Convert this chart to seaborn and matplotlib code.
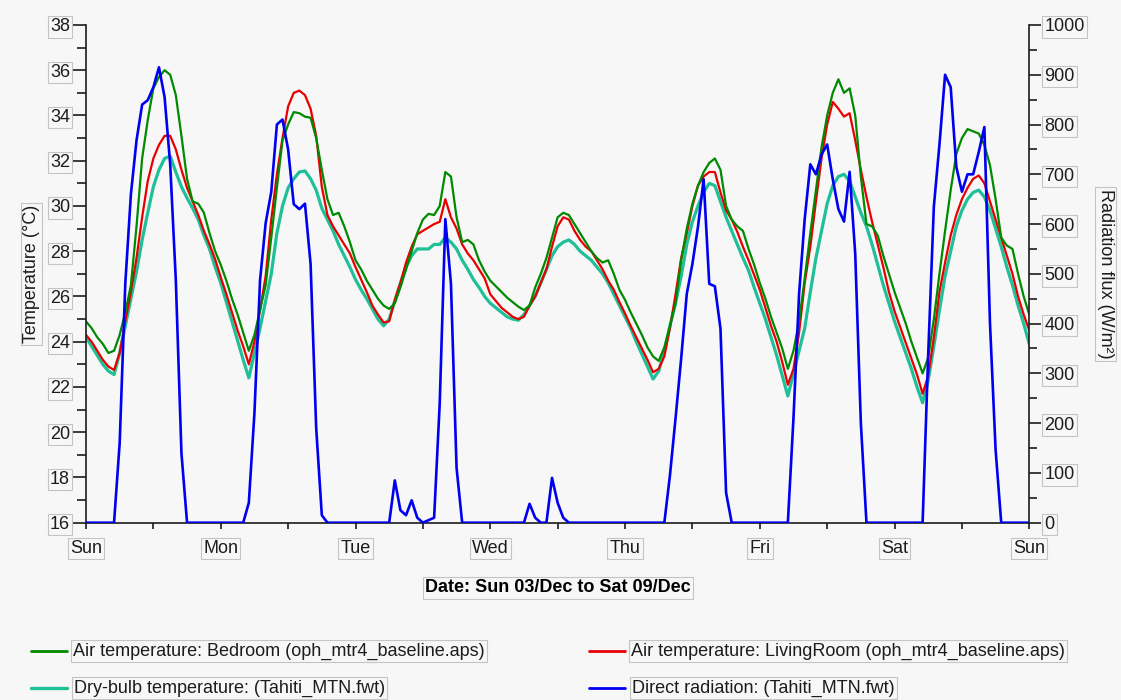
import matplotlib
matplotlib.use("Agg")
import matplotlib.pyplot as plt
from matplotlib.lines import Line2D
from matplotlib.ticker import MultipleLocator
import seaborn as sns
import numpy as np
import pandas as pd

# hourly values, Sun 03/Dec 00:00 .. Sun 10/Dec 00:00 (one row per day)
bedroom = [
    24.9, 24.6, 24.2, 23.9, 23.5, 23.6, 24.3, 25.3, 26.5, 29.1, 32.1, 33.8, 35.2, 35.7, 36.0, 35.8, 34.9, 33.1, 31.2, 30.2, 30.1, 29.7, 28.8, 28.0,
    27.4, 26.7, 25.9, 25.2, 24.4, 23.6, 24.3, 25.4, 26.5, 28.6, 30.8, 32.9, 33.6, 34.15, 34.1, 33.95, 33.9, 33.0, 31.6, 30.3, 29.6, 29.7, 29.1, 28.4,
    27.6, 27.2, 26.7, 26.3, 25.9, 25.6, 25.45, 25.7, 26.4, 27.2, 28.0, 28.8, 29.4, 29.65, 29.6, 30.0, 31.5, 31.3, 29.5, 28.4, 28.5, 28.3, 27.6, 27.1,
    26.7, 26.45, 26.2, 25.95, 25.75, 25.55, 25.4, 25.6, 26.4, 27.0, 27.7, 28.6, 29.5, 29.7, 29.6, 29.2, 28.8, 28.4, 28.0, 27.7, 27.5, 27.6, 27.0, 26.3,
    25.85, 25.3, 24.8, 24.3, 23.75, 23.35, 23.15, 23.75, 24.7, 25.7, 27.6, 29.0, 30.1, 30.9, 31.5, 31.9, 32.1, 31.6, 30.0, 29.4, 29.1, 28.9, 28.1, 27.4,
    26.6, 25.9, 25.1, 24.4, 23.7, 22.8, 23.6, 24.9, 26.8, 28.8, 30.7, 32.6, 34.0, 35.0, 35.6, 35.0, 35.2, 34.0, 31.3, 29.2, 29.1, 28.7, 27.8, 27.0,
    26.2, 25.5, 24.8, 24.0, 23.3, 22.6, 23.3, 25.0, 27.0, 28.9, 30.7, 32.3, 33.0, 33.4, 33.3, 33.2, 32.7, 31.8, 30.3, 28.6, 28.25, 28.1, 27.0, 26.0,
    25.2,
]
living_room = [
    24.3, 24.0, 23.6, 23.2, 22.9, 22.75, 23.5, 24.9, 26.2, 27.7, 29.5, 31.1, 32.1, 32.7, 33.1, 33.1, 32.5, 31.6, 30.8, 30.2, 29.6, 28.9, 28.3, 27.65,
    26.85, 26.1, 25.3, 24.5, 23.8, 23.0, 24.0, 25.4, 26.9, 29.4, 31.4, 33.0, 34.4, 35.0, 35.1, 34.9, 34.3, 33.1, 30.85, 29.6, 29.1, 28.7, 28.3, 27.9,
    27.3, 26.75, 26.2, 25.6, 25.2, 24.85, 24.9, 25.85, 26.6, 27.5, 28.2, 28.75, 28.9, 29.05, 29.2, 29.3, 30.3, 29.5, 29.0, 28.3, 27.9, 27.6, 27.2, 26.8,
    26.1, 25.8, 25.5, 25.3, 25.1, 25.0, 25.1, 25.6, 26.0, 26.6, 27.2, 28.2, 29.1, 29.5, 29.4, 28.9, 28.5, 28.2, 28.0, 27.6, 27.2, 26.7, 26.3, 25.75,
    25.25, 24.7, 24.2, 23.7, 23.2, 22.65, 22.8, 23.35, 24.6, 26.1, 27.7, 28.8, 30.0, 30.9, 31.3, 31.5, 31.5, 30.6, 29.8, 29.4, 28.85, 28.2, 27.6, 26.95,
    26.3, 25.5, 24.7, 24.0, 23.1, 22.1, 22.8, 24.4, 26.6, 28.2, 30.2, 32.1, 33.6, 34.6, 34.3, 33.95, 34.1, 32.9, 31.6, 30.4, 29.3, 28.3, 27.3, 26.2,
    25.35, 24.65, 23.95, 23.25, 22.55, 21.7, 22.5, 24.2, 26.2, 27.5, 28.7, 29.6, 30.3, 30.8, 31.2, 31.35, 31.0, 30.2, 29.4, 28.6, 27.8, 27.0, 26.0, 25.2,
    24.5,
]
dry_bulb = [
    24.2, 23.8, 23.4, 23.0, 22.7, 22.55, 23.5, 24.7, 25.9, 27.1, 28.5, 29.7, 30.85, 31.6, 32.1, 32.2, 31.5, 30.85, 30.35, 29.9, 29.4, 28.7, 28.1, 27.3,
    26.6, 25.75, 24.9, 24.05, 23.2, 22.4, 23.5, 24.6, 25.8, 27.0, 28.8, 30.0, 30.8, 31.2, 31.5, 31.55, 31.2, 30.7, 29.9, 29.4, 28.9, 28.3, 27.8, 27.3,
    26.75, 26.3, 25.9, 25.45, 25.0, 24.7, 25.0, 25.8, 26.6, 27.3, 27.8, 28.1, 28.1, 28.1, 28.3, 28.3, 28.6, 28.4, 28.1, 27.6, 27.2, 26.75, 26.4, 26.0,
    25.7, 25.5, 25.3, 25.1, 25.0, 24.95, 25.2, 25.6, 26.0, 26.6, 27.2, 27.8, 28.2, 28.4, 28.5, 28.3, 28.0, 27.8, 27.6, 27.3, 27.0, 26.6, 26.1, 25.6,
    25.1, 24.6, 24.0, 23.45, 22.9, 22.35, 22.7, 23.6, 24.7, 25.7, 26.9, 28.3, 29.3, 30.0, 30.6, 31.0, 30.9, 30.2, 29.5, 28.9, 28.3, 27.7, 27.15, 26.4,
    25.7, 25.0, 24.2, 23.4, 22.5, 21.6, 22.6, 23.6, 24.6, 26.2, 27.7, 28.9, 30.1, 30.9, 31.3, 31.4, 31.1, 30.4, 29.7, 29.1, 28.3, 27.4, 26.5, 25.7,
    24.9, 24.2, 23.5, 22.8, 22.0, 21.3, 22.3, 23.8, 25.4, 26.9, 28.0, 29.1, 29.8, 30.3, 30.6, 30.7, 30.4, 29.8, 29.0, 28.2, 27.3, 26.5, 25.6, 24.8,
    23.9,
]
direct_rad = [
    0, 0, 0, 0, 0, 0, 160, 480, 660, 768, 840, 849, 875, 915, 855, 720, 487, 140, 0, 0, 0, 0, 0, 0,
    0, 0, 0, 0, 0, 40, 220, 487, 602, 665, 800, 810, 750, 640, 630, 641, 520, 190, 15, 0, 0, 0, 0, 0,
    0, 0, 0, 0, 0, 0, 0, 85, 25, 15, 45, 10, 0, 5, 10, 240, 610, 480, 110, 0, 0, 0, 0, 0,
    0, 0, 0, 0, 0, 0, 0, 38, 10, 0, 0, 90, 40, 10, 0, 0, 0, 0, 0, 0, 0, 0, 0, 0,
    0, 0, 0, 0, 0, 0, 0, 0, 95, 210, 330, 460, 520, 595, 690, 480, 475, 390, 60, 0, 0, 0, 0, 0,
    0, 0, 0, 0, 0, 0, 210, 460, 610, 720, 700, 740, 760, 690, 630, 605, 705, 540, 200, 0, 0, 0, 0, 0,
    0, 0, 0, 0, 0, 0, 340, 635, 760, 900, 875, 715, 665, 700, 700, 745, 795, 400, 146, 0, 0, 0, 0, 0,
    0,
]
day_labels = ["Sun", "Mon", "Tue", "Wed", "Thu", "Fri", "Sat", "Sun"]

names = {
    "bedroom": "Air temperature: Bedroom (oph_mtr4_baseline.aps)",
    "living": "Air temperature: LivingRoom (oph_mtr4_baseline.aps)",
    "drybulb": "Dry-bulb temperature: (Tahiti_MTN.fwt)",
    "rad": "Direct radiation: (Tahiti_MTN.fwt)",
}
colors = {"bedroom": "#008a00", "living": "#e80000", "drybulb": "#1fbf98", "rad": "#0000f0"}

hours = np.arange(len(bedroom))
df = pd.DataFrame({"hour": hours, "bedroom": bedroom, "living": living_room,
                   "drybulb": dry_bulb, "rad": direct_rad})

sns.set_style("ticks")
plt.rcParams['font.family'] = ['Liberation Sans', 'DejaVu Sans']
bg = "#f7f7f7"
ink = "#1c1c1c"
box = dict(boxstyle="square,pad=0.12", fc=bg, ec="#c4c4c4", lw=0.8)

fig = plt.figure(figsize=(11.21, 7.0), dpi=100, facecolor=bg)
ax = fig.add_axes([0.0767, 0.2533, 0.8415, 0.7110])
ax.set_facecolor(bg)

sns.lineplot(data=df, x="hour", y="drybulb", color=colors["drybulb"], lw=2.3, ax=ax)
sns.lineplot(data=df, x="hour", y="living", color=colors["living"], lw=1.6, ax=ax)
sns.lineplot(data=df, x="hour", y="bedroom", color=colors["bedroom"], lw=1.6, ax=ax)

ax2 = ax.twinx()
sns.lineplot(data=df, x="hour", y="rad", color=colors["rad"], lw=1.9, ax=ax2)

ax.set_xlim(0, 168)
ax.set_ylim(16, 38)
ax2.set_ylim(0, 1000)

ax.set_xticks(np.arange(0, 169, 24))
ax.set_xticklabels(day_labels)
ax.xaxis.set_minor_locator(MultipleLocator(12))
ax.yaxis.set_major_locator(MultipleLocator(2))
ax.yaxis.set_minor_locator(MultipleLocator(1))
ax2.yaxis.set_major_locator(MultipleLocator(100))
ax2.yaxis.set_minor_locator(MultipleLocator(50))

for s in ["top", "right"]:
    ax.spines[s].set_visible(False)
for s in ["top", "left", "bottom"]:
    ax2.spines[s].set_visible(False)
for s in ["left", "bottom"]:
    ax.spines[s].set_color(ink)
    ax.spines[s].set_linewidth(1.2)
ax2.spines["right"].set_color(ink)
ax2.spines["right"].set_linewidth(1.2)

ax.tick_params(axis="y", which="major", length=10, width=1.2, color=ink, labelsize=13, labelcolor=ink, pad=1.5)
ax.tick_params(axis="y", which="minor", length=6.5, width=1.2, color=ink)
ax.tick_params(axis="x", which="both", length=4.5, width=1.2, color=ink, labelsize=13, labelcolor=ink, pad=8)
ax2.tick_params(axis="y", which="major", length=8.6, width=1.2, color=ink, labelsize=13, labelcolor=ink, pad=2.2)
ax2.tick_params(axis="y", which="minor", length=5.8, width=1.2, color=ink)

for lbl in ax.get_xticklabels() + ax.get_yticklabels() + ax2.get_yticklabels():
    lbl.set_bbox(box)

ax.set_xlabel("Date: Sun 03/Dec to Sat 09/Dec", fontsize=13, fontweight="bold", color="black", bbox=box)
ax.xaxis.set_label_coords(0.5, -0.131)
ax.xaxis.label.set_va("center")
ax.set_ylabel("Temperature (°C)", fontsize=13, color=ink, bbox=box)
ax.yaxis.set_label_coords(-0.0575, 0.5)
ax.yaxis.label.set_va("center")
ax2.set_ylabel("Radiation flux (W/m²)", fontsize=13, color=ink, rotation=270, bbox=box)
ax2.yaxis.set_label_coords(1.081, 0.5)
ax2.yaxis.label.set_va("center")

# legend drawn as two columns below the axis title
entries = [("bedroom", 0.0277, 0.0651, 0.070), ("living", 0.5254, 0.5629, 0.070),
           ("drybulb", 0.0277, 0.0660, 0.0171), ("rad", 0.5254, 0.5638, 0.0171)]
for key, x0, xt, y in entries:
    fig.add_artist(Line2D([x0, x0 + 0.032], [y, y], transform=fig.transFigure,
                          color=colors[key], lw=2.0 if key != "drybulb" else 2.4))
    fig.text(xt, y, names[key], fontsize=13, color=ink, ha="left", va="center", bbox=box)

fig.savefig("out.png", dpi=100, facecolor=bg)
